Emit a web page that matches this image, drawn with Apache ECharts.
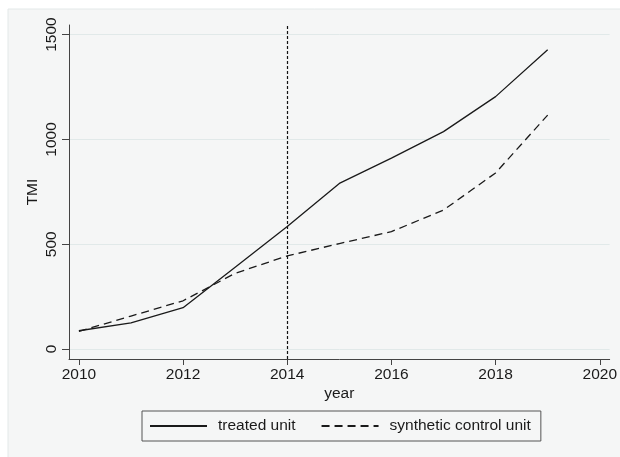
<!DOCTYPE html>
<html>
<head>
<meta charset="utf-8">
<script src="https://cdn.jsdelivr.net/npm/echarts@6/dist/echarts.min.js"></script>
<style>
  html, body { margin: 0; padding: 0; background: #ffffff; }
  #chart { width: 620px; height: 457px; }
</style>
</head>
<body>
<div id="chart"></div>
<script>
// Yearly TMI, treated unit vs. its synthetic control
const years = [2010, 2011, 2012, 2013, 2014, 2015, 2016, 2017, 2018, 2019];
const treatedUnit = [87, 125, 197, 390, 584, 790, 911, 1037, 1204, 1428];
const syntheticControl = [84, 157, 230, 361, 444, 503, 560, 663, 840, 1116];
const xTicks = [2010, 2012, 2014, 2016, 2018, 2020];
const yTicks = [0, 500, 1000, 1500];
const treatmentYear = 2014;
const seriesNames = ['treated unit', 'synthetic control unit'];

const FONT = 'Liberation Sans, Arial, sans-serif';
const FS = 15.5;
const INK = '#1a1a1a';

const chart = echarts.init(document.getElementById('chart'), null, { renderer: 'canvas' });

chart.setOption({
  backgroundColor: '#ffffff',
  animation: false,
  graphic: [{
    type: 'rect',
    z: -10,
    shape: { x: 8, y: 9, width: 640, height: 480 },
    style: { fill: '#f5f6f6', stroke: '#e3e8e8', lineWidth: 1 }
  }],
  grid: { left: 69, right: 8, top: 25, bottom: 98, containLabel: false },
  xAxis: {
    type: 'value',
    min: 2009.81,
    max: 2020.19,
    name: 'year',
    nameLocation: 'middle',
    nameGap: 27,
    nameMoveOverlap: false,
    nameTextStyle: { fontFamily: FONT, fontSize: FS, color: INK },
    axisLine: { show: true, onZero: false, lineStyle: { color: '#444', width: 1 } },
    axisTick: { show: true, length: 6, customValues: xTicks, lineStyle: { color: '#444' } },
    axisLabel: { customValues: xTicks, margin: 8, fontFamily: FONT, fontSize: FS, color: INK,
                 formatter: v => String(v) },
    splitLine: { show: false }
  },
  yAxis: {
    type: 'value',
    min: -47.7,
    max: 1545.8,
    name: 'TMI',
    nameLocation: 'middle',
    nameRotate: 90,
    nameGap: 28,
    nameMoveOverlap: false,
    nameTextStyle: { fontFamily: FONT, fontSize: FS, color: INK },
    axisLine: { show: true, onZero: false, lineStyle: { color: '#444', width: 1 } },
    axisTick: { show: true, length: 7, customValues: yTicks, lineStyle: { color: '#444' } },
    axisLabel: { customValues: yTicks, rotate: 90, margin: 9, fontFamily: FONT, fontSize: FS, color: INK,
                 formatter: v => String(v) },
    splitLine: { show: true, lineStyle: { color: '#e1e9e9', width: 1 } }
  },
  legend: {
    left: 142,
    top: 411,
    orient: 'horizontal',
    padding: [7, 10, 7, 7],
    itemGap: 25,
    itemWidth: 57,
    itemHeight: 14,
    borderColor: '#555',
    borderWidth: 1,
    backgroundColor: 'transparent',
    itemStyle: { opacity: 0 },
    textStyle: { fontFamily: FONT, fontSize: FS, color: INK, padding: [0, 0, 0, 6] },
    data: seriesNames
  },
  series: [
    {
      name: seriesNames[0],
      type: 'line',
      data: years.map((y, i) => [y, treatedUnit[i]]),
      symbol: 'none',
      lineStyle: { color: INK, width: 1.3, type: 'solid' },
      itemStyle: { color: INK },
      markLine: {
        silent: true,
        symbol: 'none',
        label: { show: false },
        lineStyle: { color: '#111', width: 1.2, type: [3, 2] },
        data: [{ xAxis: treatmentYear }]
      }
    },
    {
      name: seriesNames[1],
      type: 'line',
      data: years.map((y, i) => [y, syntheticControl[i]]),
      symbol: 'none',
      lineStyle: { color: INK, width: 1.3, type: [8, 5] },
      itemStyle: { color: INK }
    }
  ]
});
</script>
</body>
</html>
